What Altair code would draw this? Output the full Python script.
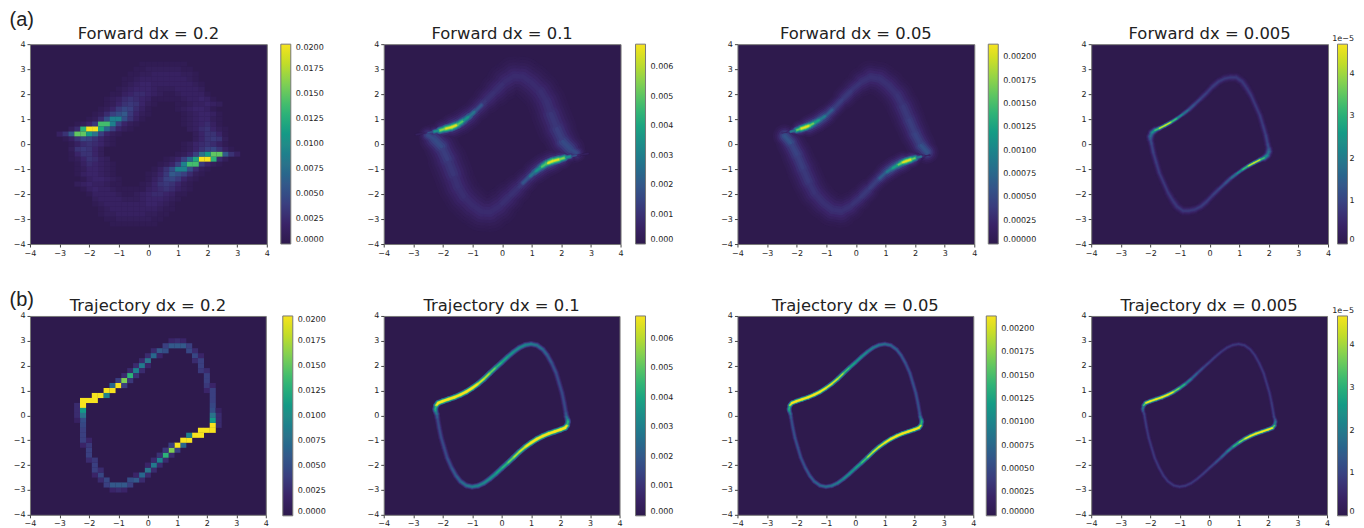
import math
import altair as alt
import pandas as pd

# ---------- colour ramp
ramp = ["#2e1a4d", "#3a2468", "#3a3f80", "#33598a", "#2a738b", "#218c88", "#1fa67f", "#43bd6d", "#7fcf53", "#c0dc2a", "#f7e31f"]

# ---------- Forward dx = 0.2 : (y, first x, cells) in units of 0.0005; lower half is the point mirror
a1_rows = [
    (3.2, -0.2, [1, 1, 1, 1, 1, 1, 1, 1]),
    (3.0, -0.4, [1, 1, 2, 2, 2, 2, 2, 2, 1, 1]),
    (2.8, -0.6, [1, 1, 2, 2, 3, 3, 3, 3, 3, 2, 2, 1]),
    (2.6, -0.8, [1, 1, 2, 3, 3, 3, 3, 3, 3, 3, 3, 2, 1]),
    (2.4, -0.8, [1, 2, 3, 4, 4, 3, 3, 3, 3, 3, 3, 3, 2, 1]),
    (2.2, -1.0, [1, 2, 3, 4, 4, 4, 3, 2, 2, 2, 3, 3, 3, 3, 2]),
    (2.0, -1.2, [1, 1, 3, 4, 5, 5, 4, 3, 2, 1, 1, 2, 3, 3, 3, 3, 1]),
    (1.8, -1.4, [1, 2, 3, 5, 6, 5, 4, 3, 1, 1, 1, 1, 1, 2, 3, 3, 4, 3, 1]),
    (1.6, -1.4, [1, 2, 4, 6, 7, 6, 4, 2, 1, 0, 0, 0, 1, 1, 2, 3, 3, 4, 3, 2]),
    (1.4, -1.6, [1, 2, 4, 7, 9, 8, 5, 3, 1, 0, 0, 0, 0, 1, 2, 3, 4, 4, 3, 1]),
    (1.2, -1.8, [1, 2, 5, 8, 10, 12, 7, 4, 2, 1, 0, 0, 0, 0, 0, 1, 2, 3, 4, 4, 3, 1]),
    (1.0, -2.0, [1, 2, 5, 10, 18, 18, 10, 6, 3, 1, 0, 0, 0, 0, 0, 0, 1, 2, 3, 4, 4, 2, 1]),
    (0.8, -2.4, [1, 2, 4, 7, 28, 28, 18, 8, 4, 2, 1, 0, 0, 0, 0, 0, 0, 0, 1, 2, 3, 4, 5, 3, 1]),
    (0.6, -2.6, [2, 5, 26, 40, 40, 24, 14, 8, 4, 2, 1, 0, 0, 0, 0, 0, 0, 0, 0, 0, 2, 3, 5, 6, 4, 2, 1]),
    (0.4, -3.0, [3, 6, 12, 30, 30, 22, 16, 8, 4, 2, 1, 0, 0, 0, 0, 0, 0, 0, 0, 0, 0, 0, 0, 2, 4, 6, 6, 4, 1]),
    (0.2, -2.8, [1, 3, 6, 9, 8, 6, 4, 2, 1, 0, 0, 0, 0, 0, 0, 0, 0, 0, 0, 0, 0, 0, 2, 4, 6, 7, 6, 2]),
    (0.0, -2.6, [1, 3, 5, 6, 5, 4, 2, 1]),
]

# ---------- Trajectory dx = 0.2 : cells (x, y, units of 0.0005); lower half is the point mirror
b1_cells = [
    (0.8, 3.0, 4), (1.0, 3.0, 5), (1.2, 3.0, 4),
    (0.6, 2.8, 8), (0.8, 2.8, 12), (1.0, 2.8, 12), (1.2, 2.8, 12), (1.4, 2.8, 8),
    (0.2, 2.6, 5), (0.4, 2.6, 12), (0.6, 2.6, 10), (1.4, 2.6, 9), (1.6, 2.6, 5),
    (0.0, 2.4, 5), (0.2, 2.4, 14), (0.4, 2.4, 4), (1.6, 2.4, 9), (1.8, 2.4, 4),
    (-0.2, 2.2, 5), (0.0, 2.2, 16), (1.6, 2.2, 5), (1.8, 2.2, 8),
    (-0.4, 2.0, 5), (-0.2, 2.0, 17), (0.0, 2.0, 4), (1.8, 2.0, 8),
    (-0.6, 1.8, 5), (-0.4, 1.8, 18), (-0.2, 1.8, 5), (1.8, 1.8, 7), (2.0, 1.8, 5),
    (-0.8, 1.6, 5), (-0.6, 1.6, 26), (-0.4, 1.6, 6), (2.0, 1.6, 8),
    (-1.0, 1.4, 8), (-0.8, 1.4, 32), (-0.6, 1.4, 7), (2.0, 1.4, 8),
    (-1.2, 1.2, 14), (-1.0, 1.2, 40), (-0.8, 1.2, 8), (2.0, 1.2, 7), (2.2, 1.2, 4),
    (-1.4, 1.0, 40), (-1.2, 1.0, 40), (2.0, 1.0, 4), (2.2, 1.0, 8),
    (-1.8, 0.8, 40), (-1.6, 0.8, 40), (-1.4, 0.8, 18), (2.2, 0.8, 8),
    (-2.2, 0.6, 40), (-2.0, 0.6, 40), (-1.8, 0.6, 40), (2.2, 0.6, 8),
    (-2.4, 0.4, 5), (-2.2, 0.4, 40), (2.2, 0.4, 9),
    (-2.4, 0.2, 5), (-2.2, 0.2, 22), (2.2, 0.2, 10), (2.4, 0.2, 3),
    (-2.4, 0.0, 5), (-2.2, 0.0, 16),
]

# ---------- Forward dx = 0.1 : broad band and hot streak (x, y, fraction of max, width in px)
a2_band_x = [-2.9, -2.6, -2.3, -2.0, -1.7, -1.4, -1.1, -0.8, -0.5, -0.2, 0.1, 0.4, 0.7, 1.0, 1.3, 1.5, 1.65, 1.85, 2.05, 2.3, 2.5]
a2_band_y = [0.38, 0.44, 0.50, 0.58, 0.70, 0.87, 1.12, 1.45, 1.80, 2.15, 2.50, 2.72, 2.70, 2.45, 2.10, 1.70, 1.20, 0.60, 0.10, -0.20, -0.35]
a2_band_v = [0.07, 0.12, 0.20, 0.25, 0.25, 0.22, 0.20, 0.17, 0.15, 0.14, 0.13, 0.13, 0.13, 0.13, 0.14, 0.15, 0.17, 0.20, 0.25, 0.25, 0.12]
a2_band_w = [3, 6, 14, 22, 26, 26, 24, 26, 30, 34, 38, 40, 40, 40, 40, 40, 40, 36, 30, 20, 8]
a2_hot_x = [-2.5, -2.3, -2.1, -1.9, -1.7, -1.5, -1.3, -1.1, -0.9, -0.7]
a2_hot_y = [0.46, 0.50, 0.55, 0.62, 0.68, 0.78, 0.94, 1.12, 1.33, 1.56]
a2_hot_v = [0.30, 0.55, 0.85, 1.00, 1.00, 0.75, 0.55, 0.42, 0.3, 0.2]
a2_hot_w = [4, 8, 11, 12, 12, 12, 12, 12, 12, 10]

# ---------- Forward dx = 0.05
a3_band_x = [-2.5, -2.3, -2.1, -1.9, -1.6, -1.3, -1.0, -0.7, -0.4, -0.1, 0.2, 0.5, 0.8, 1.1, 1.4, 1.6, 1.8, 2.0, 2.2, 2.4]
a3_band_y = [0.44, 0.47, 0.53, 0.60, 0.72, 0.90, 1.15, 1.48, 1.85, 2.20, 2.50, 2.68, 2.62, 2.35, 1.95, 1.50, 0.95, 0.40, -0.05, -0.32]
a3_band_v = [0.09, 0.15, 0.22, 0.30, 0.30, 0.28, 0.24, 0.20, 0.18, 0.16, 0.15, 0.15, 0.15, 0.15, 0.16, 0.18, 0.20, 0.22, 0.28, 0.25]
a3_band_w = [3, 7, 12, 18, 22, 22, 20, 20, 24, 26, 30, 34, 34, 34, 34, 34, 32, 30, 24, 12]
a3_hot_x = [-2.2, -2.0, -1.85, -1.7, -1.55, -1.4, -1.2, -1.0, -0.8]
a3_hot_y = [0.50, 0.56, 0.62, 0.68, 0.75, 0.85, 0.99, 1.15, 1.37]
a3_hot_v = [0.45, 0.80, 1.00, 1.00, 0.80, 0.60, 0.45, 0.33, 0.22]
a3_hot_w = [7, 10, 11, 11, 11, 11, 11, 11, 9]

# ---------- Forward dx = 0.005
a4_x = [-2.0, -1.95, -1.85, -1.7, -1.5, -1.3, -1.1, -0.9, -0.7, -0.5, -0.3, -0.1, 0.1, 0.3, 0.5, 0.7, 0.9, 1.1, 1.25, 1.4, 1.55, 1.7, 1.8, 1.9, 1.96, 2.0, 2.0]
a4_y = [0.3, 0.45, 0.55, 0.63, 0.75, 0.88, 1.03, 1.2, 1.38, 1.6, 1.82, 2.05, 2.3, 2.5, 2.62, 2.67, 2.67, 2.5, 2.25, 1.95, 1.55, 1.15, 0.75, 0.35, 0.0, -0.2, -0.3]
a4_v = [0.4, 0.55, 0.75, 1.0, 1.0, 0.75, 0.55, 0.42, 0.3, 0.25, 0.22, 0.2, 0.2, 0.19, 0.18, 0.18, 0.18, 0.18, 0.18, 0.18, 0.18, 0.19, 0.2, 0.22, 0.25, 0.32, 0.4]
a4_w = [9, 8, 6, 5, 5, 5, 5, 6, 7, 7, 8, 8, 9, 9, 10, 10, 10, 10, 9, 8, 8, 8, 8, 8, 8, 9, 9]

# ---------- Trajectory loop
traj_x = [-2.25, -2.22, -2.15, -2.0, -1.8, -1.6, -1.4, -1.2, -1.0, -0.8, -0.6, -0.4, -0.2, 0.0, 0.2, 0.4, 0.6, 0.8, 1.0, 1.2, 1.4, 1.55, 1.7, 1.85, 1.95, 2.05, 2.12, 2.18, 2.2, 2.24]
traj_y = [0.25, 0.4, 0.5, 0.57, 0.65, 0.73, 0.83, 0.95, 1.1, 1.27, 1.47, 1.7, 1.92, 2.13, 2.35, 2.55, 2.72, 2.83, 2.87, 2.82, 2.65, 2.42, 2.1, 1.7, 1.3, 0.9, 0.5, 0.1, -0.05, -0.18]
b2_v = [0.55, 0.9, 1, 1, 1, 1, 1, 1, 0.95, 0.8, 0.75, 0.65, 0.55, 0.5, 0.45, 0.42, 0.4, 0.38, 0.35, 0.32, 0.28, 0.25, 0.22, 0.2, 0.2, 0.2, 0.2, 0.25, 0.35, 0.5]
b3_v = [0.55, 0.85, 1, 1, 1, 1, 1, 0.95, 0.85, 0.8, 0.75, 0.6, 0.5, 0.45, 0.42, 0.38, 0.35, 0.32, 0.3, 0.28, 0.26, 0.24, 0.22, 0.22, 0.22, 0.22, 0.22, 0.25, 0.35, 0.5]
b4_v = [0.4, 0.7, 1, 1, 1, 1, 0.95, 0.75, 0.6, 0.42, 0.32, 0.25, 0.2, 0.18, 0.17, 0.16, 0.16, 0.16, 0.16, 0.16, 0.16, 0.16, 0.16, 0.16, 0.16, 0.16, 0.17, 0.18, 0.2, 0.3]

PROFILE = [1.0, 0.85, 0.7, 0.55, 0.4, 0.25, 0.12]
XS = alt.Scale(domain=[-4, 4], nice=False)
YS = alt.Scale(domain=[-4, 4], nice=False)
TICKS = [-4, -3, -2, -1, 0, 1, 2, 3, 4]
AX = alt.Axis(values=TICKS, title=None, grid=False, domain=False, tickSize=3, tickColor="#444", labelFlush=False,
              labelOverlap=False, labelFontSize=8, labelFont="DejaVu Sans", labelColor="#222", labelPadding=2, format="d")


def tube(xs, ys, vs, ws, vmax, floor=0.0, closed=False, k=2.5, boost=1.0):
    rows = []
    px = list(xs) + [-a for a in xs]
    py = list(ys) + [-a for a in ys]
    pv = list(vs) + list(vs)
    pw = list(ws) + list(ws)
    n = len(xs)
    for f in PROFILE:
        g = math.exp(-k * f * f) * boost
        for i in range(2 * n):
            j = i + 1
            if j == 2 * n:
                if not closed:
                    continue
                j = 0
            if i == n - 1 and not closed:
                continue
            val = pv[i] * g
            if val < floor:
                continue
            rows.append(dict(x=px[i], y=py[i], x2=px[j], y2=py[j], v=val * vmax, w=max(pw[i] * f, 0.6)))
    return pd.DataFrame(rows)


def rule_layer(df, scale, legend):
    return alt.Chart(df).mark_rule(strokeCap="round").encode(
        x=alt.X("x:Q", scale=XS, axis=AX), y=alt.Y("y:Q", scale=YS, axis=AX),
        x2="x2:Q", y2="y2:Q",
        color=alt.Color("v:Q", scale=scale, legend=legend),
        strokeWidth=alt.StrokeWidth("w:Q", scale=None),
    )


def cell_layer(cells, unit, scale, legend):
    rows = []
    half = 0.103
    for x, y, u in cells:
        if u == 0:
            continue
        for sx, sy in ((x, y), (-x, -y)):
            rows.append(dict(x=sx - half, x2=sx + half, y=sy - half, y2=sy + half, v=u * unit))
    return alt.Chart(pd.DataFrame(rows)).mark_rect(strokeWidth=0).encode(
        x=alt.X("x:Q", scale=XS, axis=AX), y=alt.Y("y:Q", scale=YS, axis=AX),
        x2="x2:Q", y2="y2:Q",
        color=alt.Color("v:Q", scale=scale, legend=legend),
    )


def make_legend(values, fmt, lx, ly=0, off=5):
    opts = dict(orient="none", legendX=lx, legendY=ly, direction="vertical", gradientLength=200,
                gradientThickness=10, gradientStrokeColor="#777", gradientStrokeWidth=1,
                values=values, format=fmt, labelFontSize=8, labelFont="DejaVu Sans", labelColor="#222",
                labelOffset=off, labelBaseline="middle", title=None)
    return alt.Legend(**opts)


def panel(title, layers, w, h, tag=None, tag_x=-20.5, tag_y=-24, corner=None):
    parts = list(layers)
    parts.append(alt.Chart(pd.DataFrame({"t": [title]})).mark_text(
        font="DejaVu Sans", fontSize=16.4, align="center", baseline="alphabetic", color="#222"
    ).encode(x=alt.value(w / 2), y=alt.value(-5), text="t:N"))
    if tag:
        parts.append(alt.Chart(pd.DataFrame({"t": [tag]})).mark_text(
            font="Liberation Sans", fontSize=20, align="left", baseline="middle", color="#222"
        ).encode(x=alt.value(tag_x), y=alt.value(tag_y), text="t:N"))
    if corner:
        parts.append(alt.Chart(pd.DataFrame({"t": [corner[0]]})).mark_text(
            font="DejaVu Sans", fontSize=8, align="right", baseline="alphabetic", color="#222"
        ).encode(x=alt.value(corner[1]), y=alt.value(-3), text="t:N"))
    return alt.layer(*parts).properties(width=w, height=h)


def cs(vmax):
    return alt.Scale(domain=[0, vmax], range=ramp, clamp=True, nice=False, zero=False)


V1 = [0.0025 * i for i in range(9)]
V2 = [0.001 * i for i in range(7)]
V3 = [0.00025 * i for i in range(9)]
V4 = [0, 1, 2, 3, 4]
M1, M2, M3, M4 = 0.02, 0.00678, 0.00214, 4.69

a1_cells = [(x0 + 0.2 * i, y, u) for y, x0, us in a1_rows for i, u in enumerate(us)]

W_A, H_A, W_B, H_B = 237, 200, 236, 199

a_panels = [
    panel("Forward dx = 0.2", [cell_layer(a1_cells, 0.0005, cs(M1), make_legend(V1, ".4f", 251))], W_A, H_A, "(a)", -20.5, -24),
    panel("Forward dx = 0.1", [
        rule_layer(tube(a2_band_x, a2_band_y, a2_band_v, a2_band_w, M2), cs(M2), make_legend(V2, ".3f", 252)),
        rule_layer(tube(a2_hot_x, a2_hot_y, a2_hot_v, a2_hot_w, M2, floor=0.2), cs(M2), make_legend(V2, ".3f", 252)),
    ], W_A, H_A),
    panel("Forward dx = 0.05", [
        rule_layer(tube(a3_band_x, a3_band_y, a3_band_v, a3_band_w, M3), cs(M3), make_legend(V3, ".5f", 251)),
        rule_layer(tube(a3_hot_x, a3_hot_y, a3_hot_v, a3_hot_w, M3, floor=0.22), cs(M3), make_legend(V3, ".5f", 251)),
    ], W_A, H_A),
    panel("Forward dx = 0.005", [
        rule_layer(tube(a4_x, a4_y, a4_v, a4_w, M4, closed=True), cs(M4), make_legend(V4, "d", 246.5, 0, 2)),
    ], W_A, H_A, corner=("1e\u22125", 263)),
]
b_panels = [
    panel("Trajectory dx = 0.2", [cell_layer(b1_cells, 0.0005, cs(M1), make_legend(V1, ".4f", 253))], W_B, H_B, "(b)", -20.5, -16),
    panel("Trajectory dx = 0.1", [
        rule_layer(tube(traj_x, traj_y, b2_v, [6] * len(traj_x), M2, closed=True, k=1.6, boost=1.25), cs(M2), make_legend(V2, ".3f", 252)),
    ], W_B, H_B),
    panel("Trajectory dx = 0.05", [
        rule_layer(tube(traj_x, traj_y, b3_v, [5] * len(traj_x), M3, closed=True, k=1.6, boost=1.25), cs(M3), make_legend(V3, ".5f", 249)),
    ], W_B, H_B),
    panel("Trajectory dx = 0.005", [
        rule_layer(tube(traj_x, traj_y, b4_v, [5] * len(traj_x), M4, closed=True, k=2.0, boost=1.15), cs(M4), make_legend(V4, "d", 246.5, 0, 2)),
    ], W_B, H_B, corner=("1e\u22125", 263)),
]

row_a = alt.hconcat(*a_panels, spacing=117, bounds="flush").resolve_scale(color="independent")
row_b = alt.hconcat(*b_panels, spacing=118, bounds="flush").resolve_scale(color="independent")

chart = alt.concat(row_a, row_b, columns=1, align="none", spacing=31).resolve_scale(color="independent").properties(
    padding={"left": 1, "top": 1, "right": 0, "bottom": 0}
).configure_view(fill=ramp[0], stroke="#777", strokeWidth=1)

chart.save("out.html", embed_options={"renderer": "svg", "actions": False})
